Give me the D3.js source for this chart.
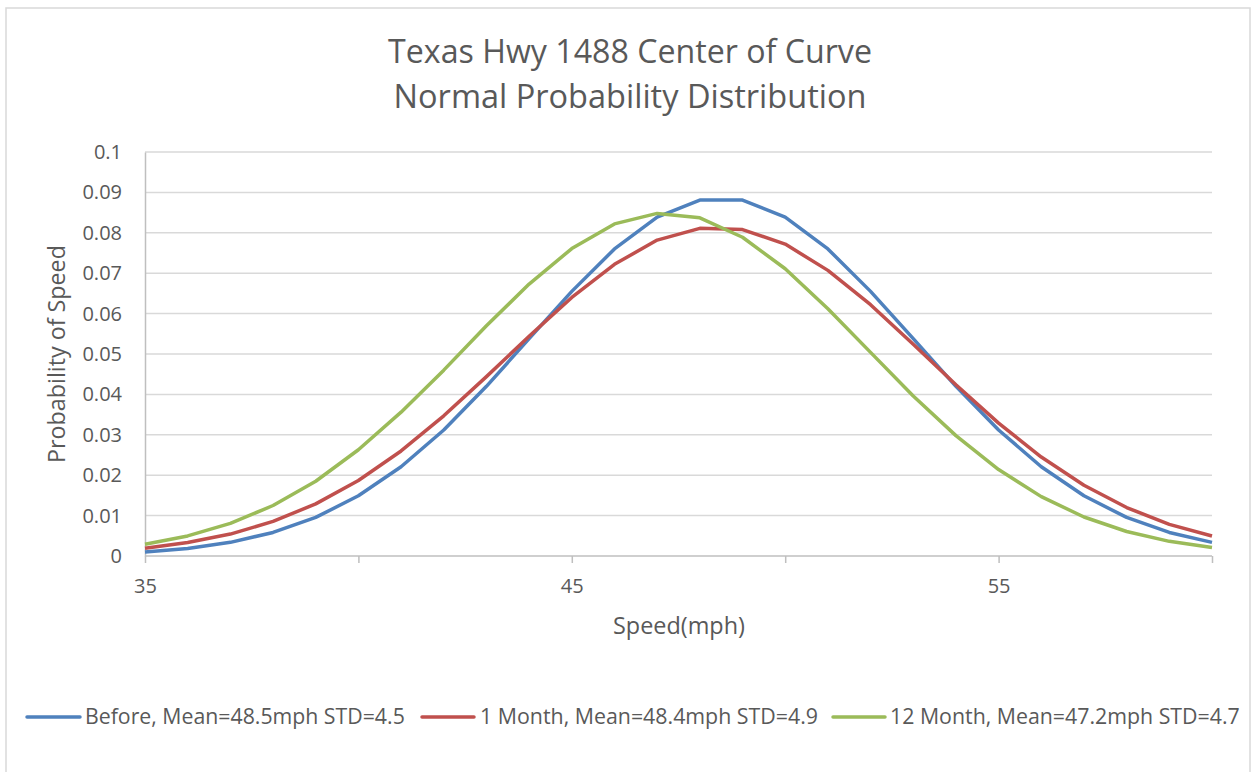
<!DOCTYPE html>
<html>
<head>
<meta charset="utf-8">
<script src="https://cdn.jsdelivr.net/npm/d3@7/dist/d3.min.js"></script>
<style>
  html, body { margin: 0; padding: 0; background: #ffffff; }
  svg { display: block; }
  text { font-family: "Open Sans", "Noto Sans", sans-serif; fill: #595959; }
</style>
</head>
<body>
<svg id="chart" width="1254" height="772"></svg>
<script>
// Speeds (mph) at which each distribution is evaluated
const speeds = [35, 36, 37, 38, 39, 40, 41, 42, 43, 44, 45, 46, 47, 48, 49, 50,
                51, 52, 53, 54, 55, 56, 57, 58, 59, 60];

// Probability of each speed, per survey period
const before = [0.00098, 0.00187, 0.00338, 0.00583, 0.00955, 0.0149, 0.0221, 0.0312,
                0.0420, 0.0538, 0.0655, 0.0760, 0.0839, 0.0881, 0.0881, 0.0839,
                0.0760, 0.0655, 0.0538, 0.0420, 0.0312, 0.0221, 0.0149, 0.00955,
                0.00583, 0.00338];
const oneMonth = [0.00193, 0.00332, 0.00543, 0.00856, 0.0129, 0.0187, 0.0260, 0.0347,
                  0.0444, 0.0544, 0.0640, 0.0722, 0.0782, 0.0811, 0.0808, 0.0772,
                  0.0707, 0.0622, 0.0524, 0.0424, 0.0329, 0.0245, 0.0175, 0.0120,
                  0.00784, 0.00494];
const twelveMonth = [0.00292, 0.00497, 0.00806, 0.0125, 0.0185, 0.0263, 0.0356, 0.0460,
                     0.0570, 0.0673, 0.0761, 0.0822, 0.0848, 0.0837, 0.0789, 0.0711,
                     0.0612, 0.0504, 0.0396, 0.0298, 0.0214, 0.0147, 0.00965, 0.00606,
                     0.00363, 0.00208];

const seriesNames = ["Before, Mean=48.5mph STD=4.5",
                     "1 Month, Mean=48.4mph STD=4.9",
                     "12 Month, Mean=47.2mph STD=4.7"];
const seriesColors = ["#4F81BD", "#C0504D", "#9BBB59"];

const xTickMarks = [35, 40, 45, 50, 55, 60];
const xTickLabels = [35, 45, 55];
const yTicks = [0, 0.01, 0.02, 0.03, 0.04, 0.05, 0.06, 0.07, 0.08, 0.09, 0.1];

const titleLines = ["Texas Hwy 1488 Center of Curve", "Normal Probability Distribution"];
const xTitle = "Speed(mph)";
const yTitle = "Probability of Speed";

const svg = d3.select("#chart");
const plot = { left: 145, right: 1212, top: 152, bottom: 556 };

const x = d3.scaleLinear().domain([35, 60]).range([plot.left, plot.right]);
const y = d3.scaleLinear().domain([0, 0.1]).range([plot.bottom, plot.top]);

// fit a text element to a given width by adjusting its font size
function fitWidth(sel, target) {
  const node = sel.node();
  const fs = parseFloat(sel.attr("font-size"));
  const w = node.getComputedTextLength();
  if (w > 0) sel.attr("font-size", (fs * target / w).toFixed(2));
  return sel;
}

// outer frame
svg.append("rect")
  .attr("x", 6).attr("y", 8).attr("width", 1244).attr("height", 775)
  .attr("fill", "#ffffff").attr("stroke", "#D9D9D9").attr("stroke-width", 1.5);

// title
titleLines.forEach((t, i) => {
  const el = svg.append("text")
    .attr("x", 630).attr("y", 63 + i * 45)
    .attr("text-anchor", "middle")
    .attr("font-size", 30)
    .text(t);
  fitWidth(el, i === 0 ? 484 : 473);
});

// horizontal gridlines
svg.append("g").selectAll("line")
  .data(yTicks.filter(d => d > 0))
  .join("line")
  .attr("x1", plot.left).attr("x2", plot.right)
  .attr("y1", d => y(d)).attr("y2", d => y(d))
  .attr("stroke", "#D9D9D9").attr("stroke-width", 1.5);

// y axis
const yAxis = svg.append("g")
  .attr("transform", `translate(${plot.left},0)`)
  .call(d3.axisLeft(y).tickValues(yTicks).tickSize(0).tickPadding(23)
    .tickFormat(d => d3.format("")(+d.toFixed(2))));
yAxis.select(".domain").attr("stroke", "#BFBFBF").attr("stroke-width", 1.5);
yAxis.selectAll("text").attr("font-size", 20);

// x axis
const xAxis = svg.append("g")
  .attr("transform", `translate(0,${plot.bottom})`)
  .call(d3.axisBottom(x).tickValues(xTickMarks).tickSize(7).tickPadding(16)
    .tickFormat(d => xTickLabels.includes(d) ? d : ""));
xAxis.select(".domain").attr("stroke", "#BFBFBF").attr("stroke-width", 1.5)
  .attr("d", `M${plot.left},0H${plot.right}`);
xAxis.selectAll(".tick line").attr("stroke", "#BFBFBF").attr("stroke-width", 1.5);
xAxis.selectAll("text").attr("font-size", 20);

// axis titles
const xt = svg.append("text")
  .attr("x", 679).attr("y", 634)
  .attr("text-anchor", "middle").attr("font-size", 22)
  .text(xTitle);
fitWidth(xt, 132);

const yt = svg.append("text")
  .attr("transform", "translate(65,354) rotate(-90)")
  .attr("text-anchor", "middle").attr("font-size", 20)
  .text(yTitle);
fitWidth(yt, 218);

// series lines
const series = [before, oneMonth, twelveMonth];
const line = d3.line().x((d, i) => x(speeds[i])).y(d => y(d));

svg.append("g").selectAll("path")
  .data(series)
  .join("path")
  .attr("d", d => line(d))
  .attr("fill", "none")
  .attr("stroke", (d, i) => seriesColors[i])
  .attr("stroke-width", 3.5)
  .attr("stroke-linejoin", "round");

// legend
const legendY = 717;
const legendItems = [
  { x0: 27, x1: 80, tx: 85, tw: 320 },
  { x0: 422, x1: 474, tx: 480, tw: 338 },
  { x0: 833, x1: 885, tx: 890, tw: 350 }
];
const legend = svg.append("g");
legendItems.forEach((it, i) => {
  legend.append("line")
    .attr("x1", it.x0).attr("x2", it.x1)
    .attr("y1", legendY).attr("y2", legendY)
    .attr("stroke", seriesColors[i]).attr("stroke-width", 3.5)
    .attr("stroke-linecap", "round");
  const t = legend.append("text")
    .attr("x", it.tx).attr("y", legendY + 7)
    .attr("font-size", 20)
    .text(seriesNames[i]);
  fitWidth(t, it.tw);
});
</script>
</body>
</html>
